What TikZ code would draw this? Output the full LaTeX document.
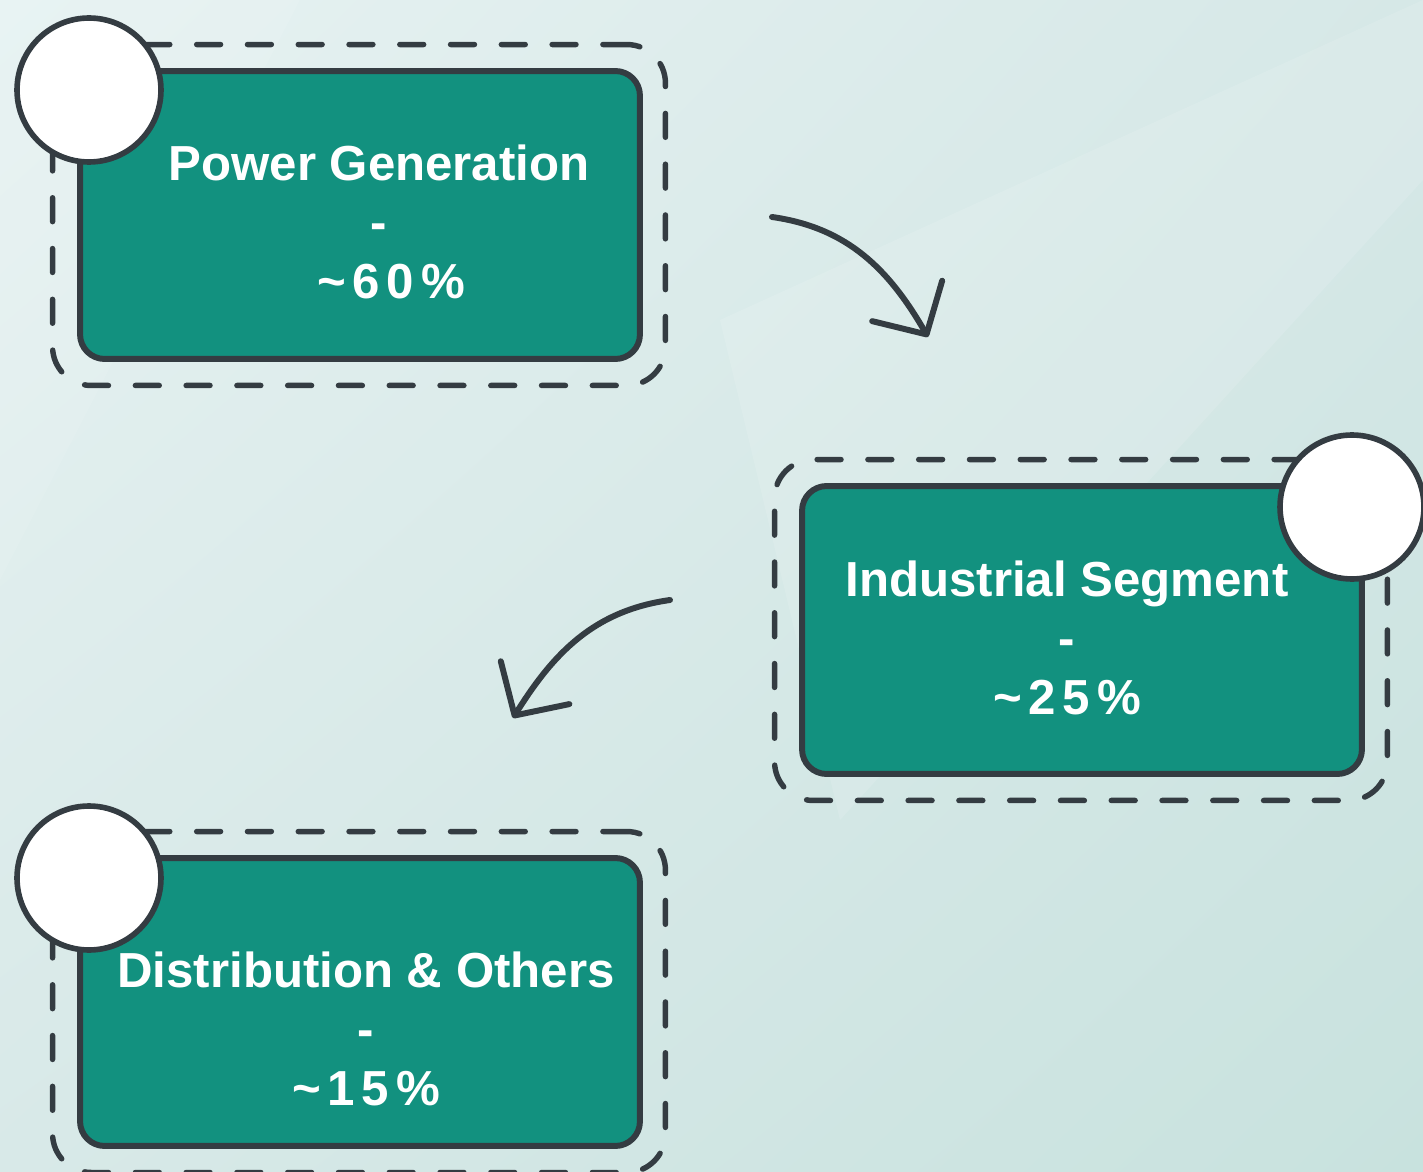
\documentclass[tikz,border=0pt]{standalone}
\usepackage{fontspec}
\setmainfont{Liberation Sans}
\usetikzlibrary{arrows.meta,positioning,shadings}

\definecolor{inkdark}{HTML}{343C42}
\definecolor{tealfill}{HTML}{12917F}
\definecolor{bgtl}{HTML}{E7F2F2}
\definecolor{bgtr}{HTML}{D6E8E7}
\definecolor{bgbl}{HTML}{D8E9E8}
\definecolor{bgbr}{HTML}{C8E2DE}

\newcommand{\pct}[1]{{\addfontfeatures{LetterSpace=14}#1}}

\begin{document}
\begin{tikzpicture}[
    x=0.02cm, y=-0.02cm,
    card/.style={rectangle, draw=inkdark, fill=tealfill, line width=3.4pt, rounded corners=14pt, minimum width=11.2cm, minimum height=5.76cm, inner sep=0pt},
    halo/.style={rectangle, draw=inkdark, line width=3.1pt, dash pattern=on 13.6pt off 15.3pt, line cap=round, rounded corners=22pt, minimum width=12.26cm, minimum height=6.82cm, inner sep=0pt},
    badge/.style={circle, draw=inkdark, fill=white, line width=3.2pt, minimum size=2.88cm, inner sep=0pt},
    cardtext/.style={text=white, font=\fontsize{28}{33.5}\selectfont\bfseries, align=center, inner sep=0pt},
    arrow/.style={draw=inkdark, line width=3.4pt, line cap=round, line join=round, -{Straight Barb[length=22pt, width=46pt, line cap=round, line join=round]}}
]

    % Fond
    \useasboundingbox (0,0) rectangle (1423,1172);
    \shade[upper left=bgtl, upper right=bgtr, lower left=bgbl, lower right=bgbr] (0,0) rectangle (1423,1172);
    \fill[white, opacity=0.12] (720,320) -- (1423,0) -- (1423,180) -- (840,820) -- cycle;
    \fill[white, opacity=0.08] (0,0) -- (300,0) -- (0,580) -- cycle;

    % Production
    \node[halo] (powhalo) at (359,215) {};
    \node[card] (powbox) at (360,215) {};
    \node[cardtext] (powtxt) at (379,222) {Power Generation\\-\\\hspace*{0.48cm}\pct{\textasciitilde60\%}};
    \node[badge] (powbadge) at (89,90) {};

    % Industrie
    \node[halo] (indhalo) at (1081,630) {};
    \node[card] (indbox) at (1082,630) {};
    \node[cardtext] (indtxt) at (1067,638) {Industrial Segment\\-\\\pct{\textasciitilde25\%}};
    \node[badge] (indbadge) at (1352,507) {};

    % Distribution
    \node[halo] (disthalo) at (359,1002) {};
    \node[card] (distbox) at (360,1002) {};
    \node[cardtext] (disttxt) at (366,1029) {Distribution \& Others\\-\\\pct{\textasciitilde15\%}};
    \node[badge] (distbadge) at (89,878) {};

    % Flèches
    \coordinate (arrAs) at (772,217);
    \coordinate (arrAe) at (928,337);
    \coordinate (arrBs) at (670,600);
    \coordinate (arrBe) at (513,718);
    \draw[arrow] (arrAs) to[out=-8, in=120] (arrAe);
    \draw[arrow] (arrBs) to[out=188, in=58] (arrBe);

\end{tikzpicture}
\end{document}
